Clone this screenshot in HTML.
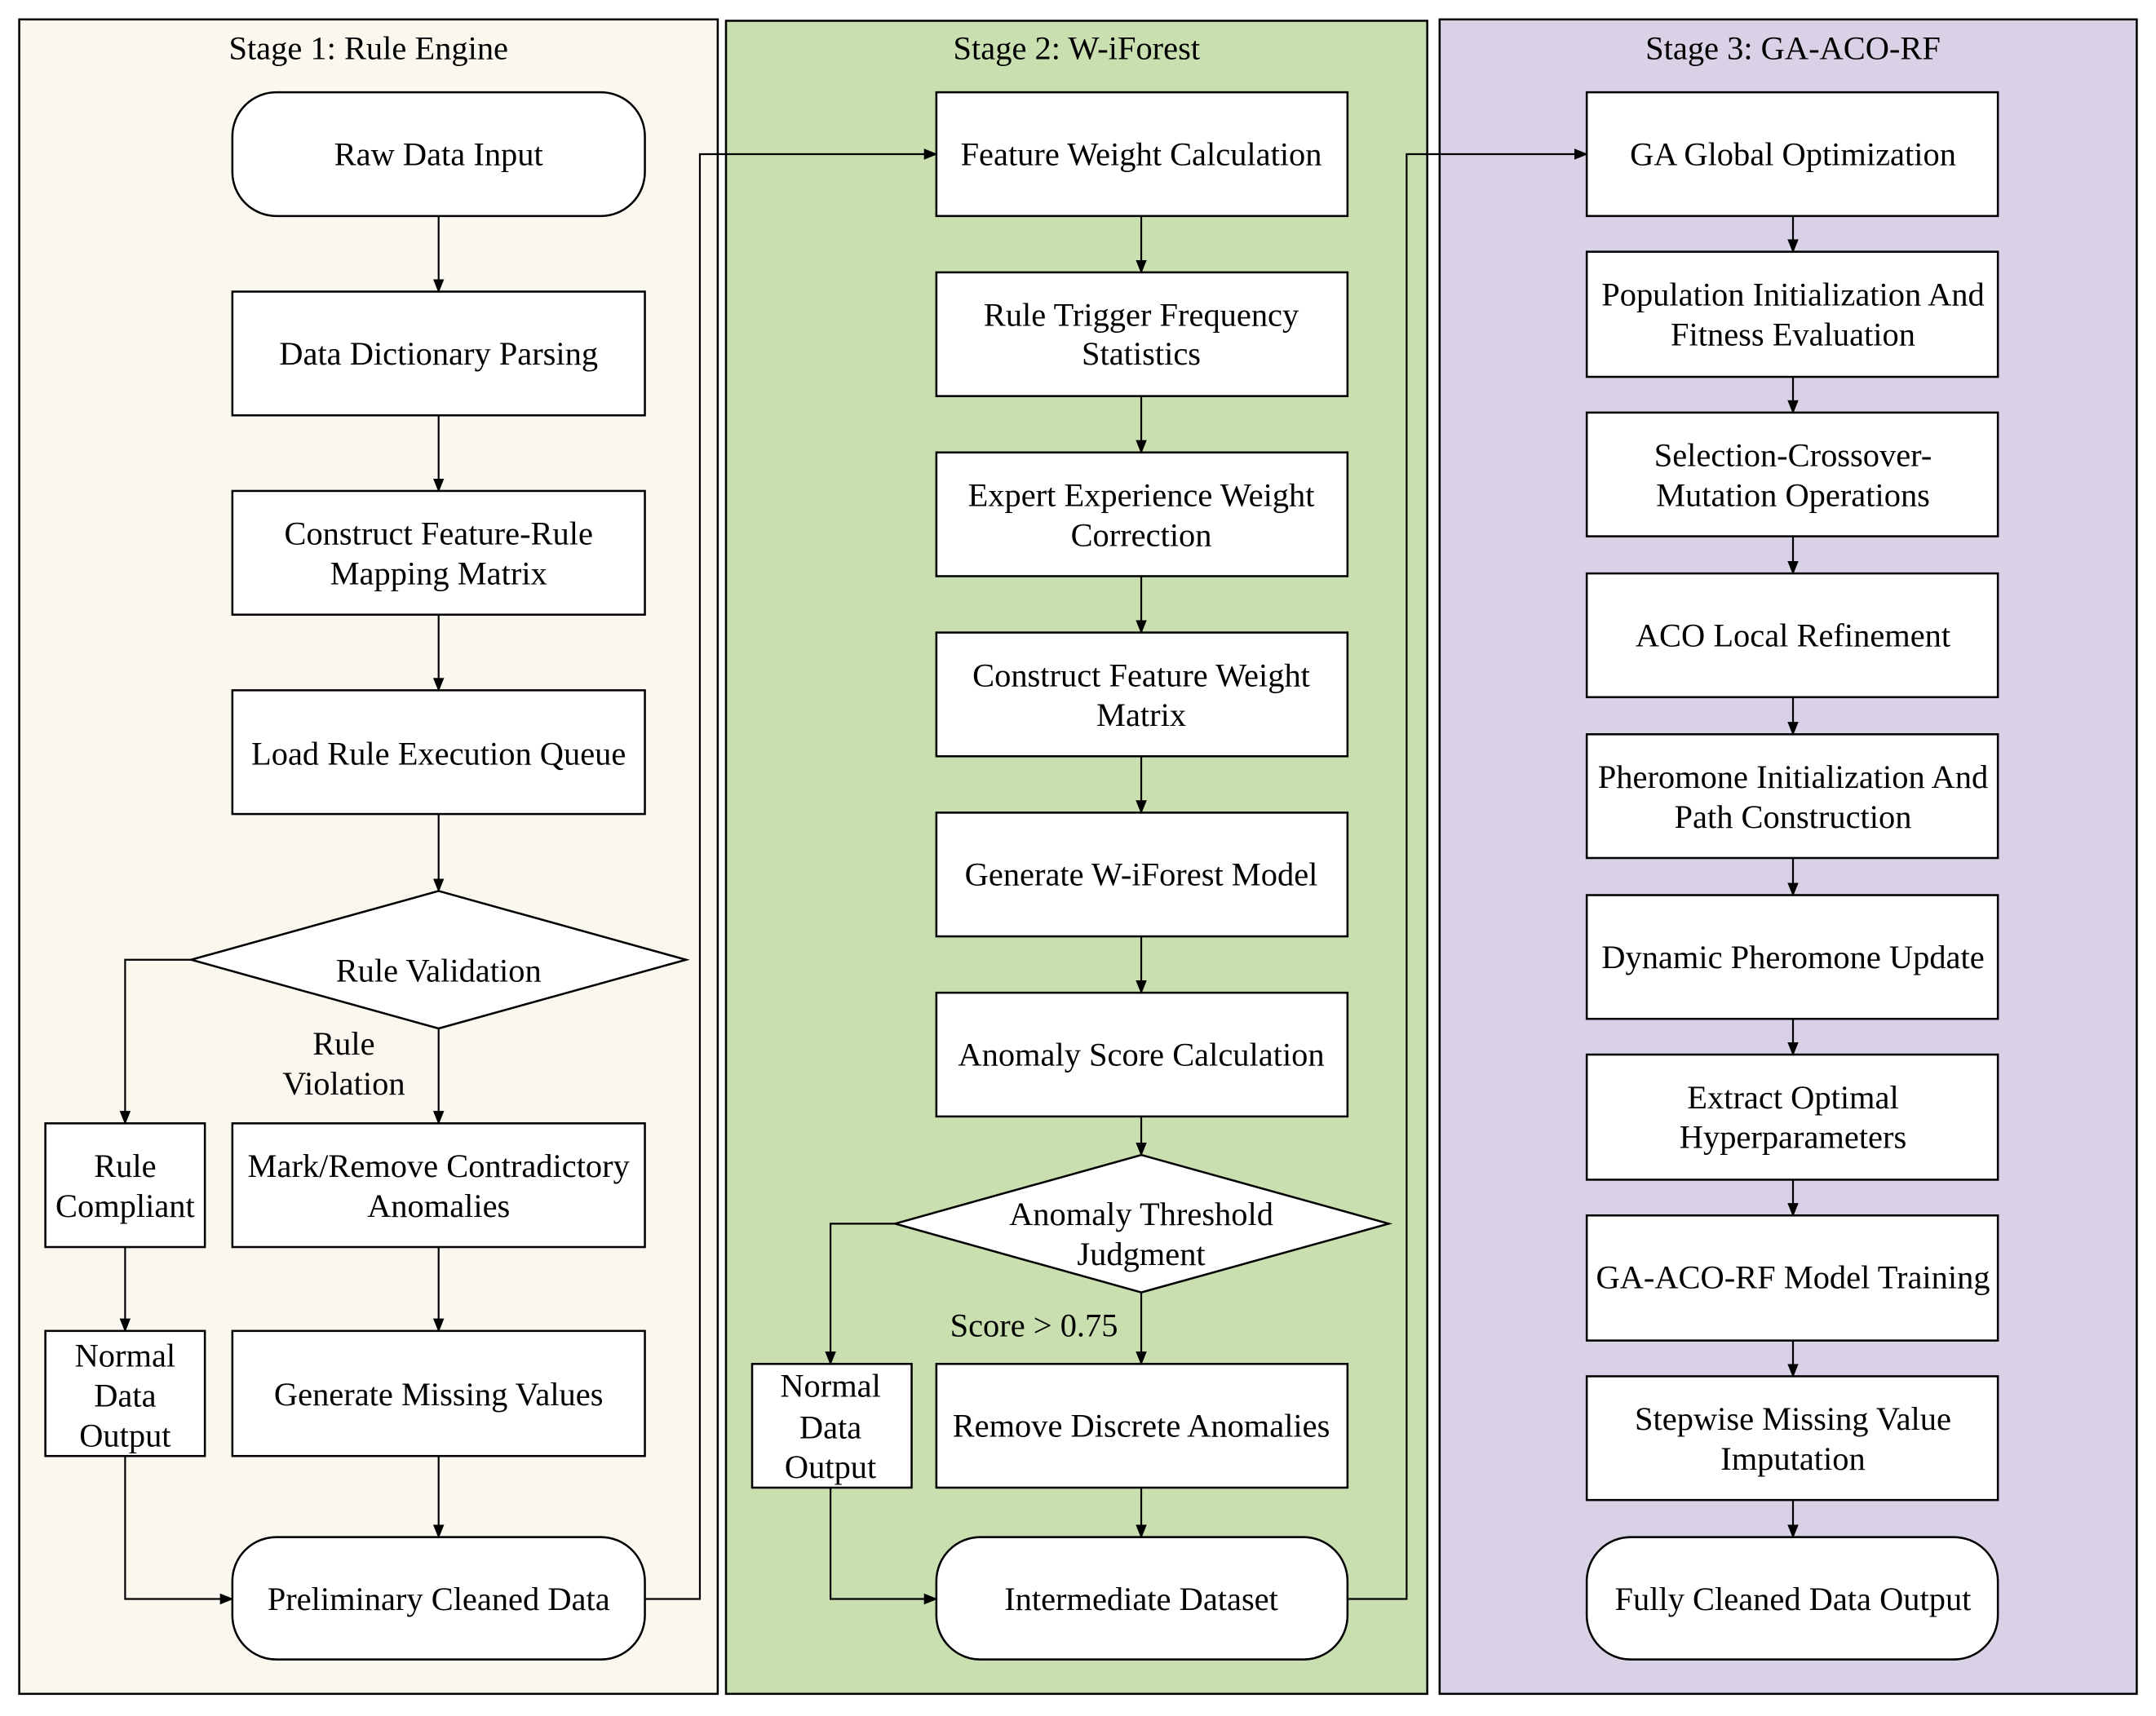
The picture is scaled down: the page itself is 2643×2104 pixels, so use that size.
<!DOCTYPE html>
<html><head><style>html,body{margin:0;padding:0;background:#fff}svg{display:block}</style></head><body>
<svg width="2643" height="2104" viewBox="0 0 1568 1248" xmlns="http://www.w3.org/2000/svg" font-family="'Liberation Serif', serif" font-size="24" text-anchor="middle">
<defs><marker id="a" markerWidth="10" markerHeight="10" refX="9" refY="5" orient="auto" markerUnits="userSpaceOnUse"><path d="M0,1 L10,5 L0,9 z" fill="#000"/></marker></defs>
<rect x="14" y="14" width="508" height="1218" fill="#faf7ee" stroke="#000" stroke-width="1.5"/>
<rect x="528" y="15" width="510" height="1217" fill="#c9dfb0" stroke="#000" stroke-width="1.5"/>
<rect x="1047" y="14" width="507" height="1218" fill="#d9d1e5" stroke="#000" stroke-width="1.5"/>
<text x="268" y="43">Stage 1: Rule Engine</text>
<text x="783" y="43">Stage 2: W-iForest</text>
<text x="1304" y="43">Stage 3: GA-ACO-RF</text>
<g fill="#fff" stroke="#000" stroke-width="1.5">
<rect x="169" y="67" width="300" height="90" rx="32"/>
<rect x="169" y="212" width="300" height="90"/>
<rect x="169" y="357" width="300" height="90"/>
<rect x="169" y="502" width="300" height="90"/>
<polygon points="319,648 499,698 319,748 139,698"/>
<rect x="169" y="817" width="300" height="90"/>
<rect x="33" y="817" width="116" height="90"/>
<rect x="33" y="968" width="116" height="91"/>
<rect x="169" y="968" width="300" height="91"/>
<rect x="169" y="1118" width="300" height="89" rx="32"/>
<rect x="681" y="67" width="299" height="90"/>
<rect x="681" y="198" width="299" height="90"/>
<rect x="681" y="329" width="299" height="90"/>
<rect x="681" y="460" width="299" height="90"/>
<rect x="681" y="591" width="299" height="90"/>
<rect x="681" y="722" width="299" height="90"/>
<polygon points="830,840 1010,890 830,940 651,890"/>
<rect x="547" y="992" width="116" height="90"/>
<rect x="681" y="992" width="299" height="90"/>
<rect x="681" y="1118" width="299" height="89" rx="32"/>
<rect x="1154" y="67" width="299" height="90"/>
<rect x="1154" y="183" width="299" height="91"/>
<rect x="1154" y="300" width="299" height="90"/>
<rect x="1154" y="417" width="299" height="90"/>
<rect x="1154" y="534" width="299" height="90"/>
<rect x="1154" y="651" width="299" height="90"/>
<rect x="1154" y="767" width="299" height="91"/>
<rect x="1154" y="884" width="299" height="91"/>
<rect x="1154" y="1001" width="299" height="90"/>
<rect x="1154" y="1118" width="299" height="89" rx="32"/>
</g>
<g fill="none" stroke="#000" stroke-width="1.3" marker-end="url(#a)">
<path d="M319 157V212"/><path d="M319 302V357"/><path d="M319 447V502"/><path d="M319 592V648"/>
<path d="M319 748V817"/><path d="M139 698H91V817"/><path d="M91 907V968"/><path d="M319 907V968"/>
<path d="M319 1059V1118"/><path d="M91 1059V1163H169"/><path d="M469 1163H509V112H681"/>
<path d="M830 157V198"/><path d="M830 288V329"/><path d="M830 419V460"/><path d="M830 550V591"/>
<path d="M830 681V722"/><path d="M830 812V840"/><path d="M830 940V992"/><path d="M651 890H604V992"/>
<path d="M830 1082V1118"/><path d="M604 1082V1163H681"/><path d="M980 1163H1023V112H1154"/>
<path d="M1304 157V183"/><path d="M1304 274V300"/><path d="M1304 390V417"/><path d="M1304 507V534"/>
<path d="M1304 624V651"/><path d="M1304 741V767"/><path d="M1304 858V884"/><path d="M1304 975V1001"/><path d="M1304 1091V1118"/>
</g>
<g>
<text x="319" y="120">Raw Data Input</text>
<text x="319" y="265">Data Dictionary Parsing</text>
<text x="319" y="396">Construct Feature-Rule</text><text x="319" y="425">Mapping Matrix</text>
<text x="319" y="556">Load Rule Execution Queue</text>
<text x="319" y="714">Rule Validation</text>
<text x="250" y="767">Rule</text><text x="250" y="796">Violation</text>
<text x="91" y="856">Rule</text><text x="91" y="885">Compliant</text>
<text x="319" y="856">Mark/Remove Contradictory</text><text x="319" y="885">Anomalies</text>
<text x="91" y="994">Normal</text><text x="91" y="1023">Data</text><text x="91" y="1052">Output</text>
<text x="319" y="1022">Generate Missing Values</text>
<text x="319" y="1171">Preliminary Cleaned Data</text>
<text x="830" y="120">Feature Weight Calculation</text>
<text x="830" y="237">Rule Trigger Frequency</text><text x="830" y="265">Statistics</text>
<text x="830" y="368">Expert Experience Weight</text><text x="830" y="397">Correction</text>
<text x="830" y="499">Construct Feature Weight</text><text x="830" y="528">Matrix</text>
<text x="830" y="644">Generate W-iForest Model</text>
<text x="830" y="775">Anomaly Score Calculation</text>
<text x="830" y="891">Anomaly Threshold</text><text x="830" y="920">Judgment</text>
<text x="752" y="972">Score &gt; 0.75</text>
<text x="604" y="1016">Normal</text><text x="604" y="1046">Data</text><text x="604" y="1075">Output</text>
<text x="830" y="1045">Remove Discrete Anomalies</text>
<text x="830" y="1171">Intermediate Dataset</text>
<text x="1304" y="120">GA Global Optimization</text>
<text x="1304" y="222">Population Initialization And</text><text x="1304" y="251">Fitness Evaluation</text>
<text x="1304" y="339">Selection-Crossover-</text><text x="1304" y="368">Mutation Operations</text>
<text x="1304" y="470">ACO Local Refinement</text>
<text x="1304" y="573">Pheromone Initialization And</text><text x="1304" y="602">Path Construction</text>
<text x="1304" y="704">Dynamic Pheromone Update</text>
<text x="1304" y="806">Extract Optimal</text><text x="1304" y="835">Hyperparameters</text>
<text x="1304" y="937">GA-ACO-RF Model Training</text>
<text x="1304" y="1040">Stepwise Missing Value</text><text x="1304" y="1069">Imputation</text>
<text x="1304" y="1171">Fully Cleaned Data Output</text>
</g>
</svg>
</body></html>
